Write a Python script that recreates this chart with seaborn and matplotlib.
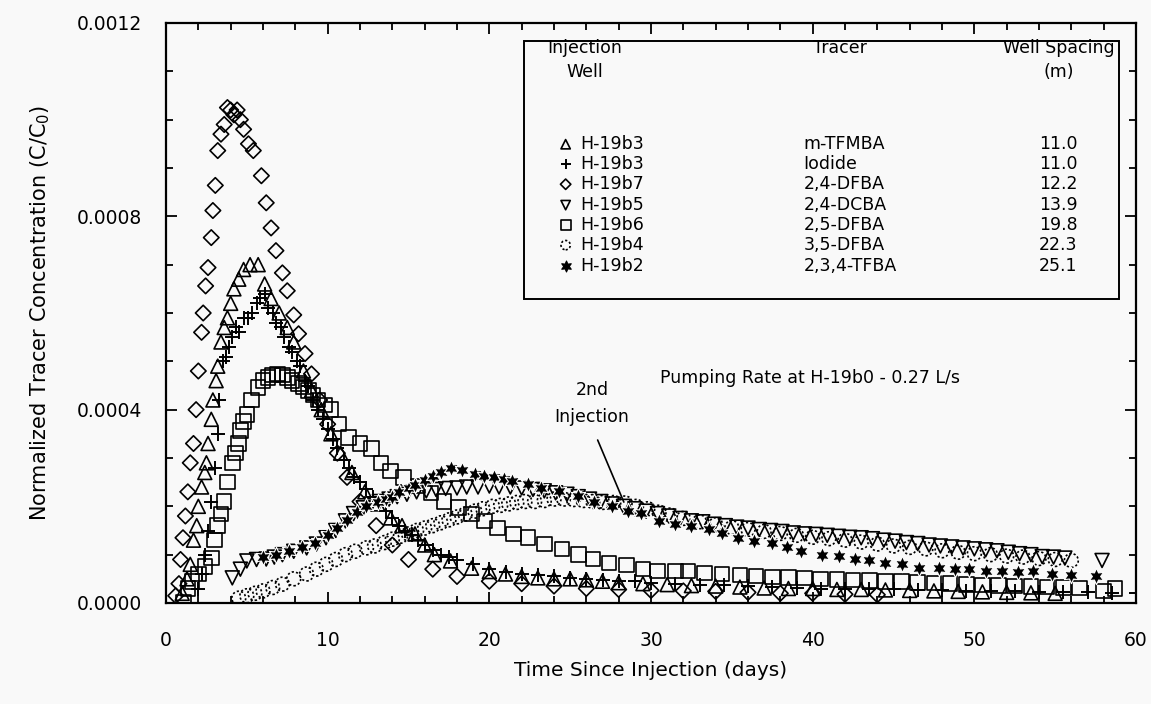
import numpy as np
import pandas as pd
import matplotlib
matplotlib.use("Agg")
import matplotlib.pyplot as plt
import seaborn as sns
from matplotlib.ticker import MultipleLocator, FixedLocator
from matplotlib.patches import Rectangle
from matplotlib.lines import Line2D

# ---------------- data (concentrations in units of 1e-4 C/C0) ----------------
tri_day = [1.0, 1.3, 1.5, 1.7, 1.9, 2.0, 2.2, 2.4, 2.5, 2.6, 2.8, 2.9, 3.1, 3.2, 3.4, 3.6, 3.8, 4.0, 4.2, 4.5,
           4.8, 5.2, 5.7, 6.1, 6.5, 7.0, 7.5, 7.9, 8.5, 9.0, 9.6, 10.2, 10.8, 11.5, 12.3, 13.1, 13.9, 14.6, 15.4,
           16.0, 16.6, 17.6, 18.9, 20.0, 21.0, 22.0, 23.0, 24.0, 25.0, 26.0, 27.0, 28.0, 29.5, 31.0, 32.5, 34.0,
           35.5, 37.0, 38.5, 40.0, 41.5, 43.0, 44.5, 46.0, 47.5, 49.0, 50.5, 52.0, 53.5, 55.0]
tri_c = [0.2, 0.5, 0.8, 1.3, 1.6, 2.0, 2.4, 2.7, 2.9, 3.3, 3.8, 4.2, 4.6, 4.9, 5.4, 5.7, 5.9, 6.2, 6.5, 6.7,
         6.9, 7.0, 7.0, 6.6, 6.3, 6.0, 5.7, 5.4, 4.8, 4.4, 4.0, 3.5, 3.1, 2.7, 2.3, 2.05, 1.76, 1.6, 1.43,
         1.2, 1.0, 0.87, 0.72, 0.65, 0.6, 0.55, 0.52, 0.5, 0.5, 0.48, 0.45, 0.42, 0.4, 0.38, 0.36, 0.35,
         0.33, 0.31, 0.3, 0.3, 0.28, 0.28, 0.27, 0.26, 0.25, 0.24, 0.23, 0.22, 0.21, 0.2]

plus_day = [2.0, 2.2, 2.4, 2.6, 2.8, 3.0, 3.2, 3.3, 3.5, 3.7, 3.9, 4.1, 4.3, 4.5, 4.8, 5.1, 5.3, 5.6, 5.8, 6.1,
            6.3, 6.6, 6.8, 7.1, 7.3, 7.6, 7.8, 8.1, 8.3, 8.6, 8.8, 9.1, 9.4, 9.7, 10.0, 10.3, 10.6, 11.0, 11.3,
            11.6, 12.0, 12.4, 12.8, 13.2, 13.6, 14.0, 14.4, 14.8, 15.2, 15.6, 16.0, 16.5, 17.0, 17.5, 18.0, 19.0,
            20.0, 21.0, 22.0, 23.0, 24.0, 25.0, 26.0, 27.0, 28.0, 29.0, 30.0, 31.5, 33.0, 34.5, 36.0, 37.5, 39.0,
            40.5, 42.0, 43.5, 45.0, 46.5, 48.0, 49.5, 51.0, 52.5, 54.0, 55.5, 57.0, 58.5, 60.0]
plus_c = [0.3, 0.6, 1.0, 1.5, 2.1, 2.8, 3.5, 4.2, 5.0, 5.1, 5.3, 5.5, 5.7, 5.6, 5.9, 5.9, 6.0, 6.2, 6.3, 6.4,
          6.1, 6.0, 5.8, 5.7, 5.5, 5.3, 5.2, 5.0, 4.9, 4.6, 4.5, 4.2, 4.0, 3.8, 3.6, 3.4, 3.2, 2.95, 2.8,
          2.6, 2.5, 2.35, 2.2, 2.05, 1.9, 1.75, 1.6, 1.5, 1.4, 1.3, 1.2, 1.1, 1.0, 0.95, 0.9, 0.8,
          0.7, 0.65, 0.6, 0.58, 0.55, 0.52, 0.5, 0.48, 0.45, 0.45, 0.42, 0.4, 0.38, 0.37, 0.35, 0.34, 0.32,
          0.3, 0.3, 0.29, 0.28, 0.27, 0.26, 0.25, 0.25, 0.24, 0.23, 0.22, 0.22, 0.21, 0.2]

dia_day = [0.6, 0.8, 0.9, 1.05, 1.2, 1.35, 1.5, 1.7, 1.86, 2.0, 2.2, 2.3, 2.45, 2.6, 2.8, 2.9, 3.05, 3.2, 3.4,
           3.6, 3.8, 4.0, 4.2, 4.4, 4.6, 4.8, 5.1, 5.4, 5.9, 6.2, 6.5, 6.8, 7.2, 7.5, 7.9, 8.2, 8.6, 9.0, 9.5,
           10.0, 10.6, 11.2, 12.0, 13.0, 14.0, 15.0, 16.5, 18.0, 20.0, 22.0, 24.0, 26.0, 28.0, 30.0, 32.0,
           34.0, 36.0, 38.0, 40.0, 42.0, 44.0]
dia_c = [0.15, 0.4, 0.9, 1.35, 1.8, 2.3, 2.9, 3.3, 4.0, 4.8, 5.6, 6.0, 6.56, 6.94, 7.56, 8.12, 8.64, 9.36, 9.7,
         9.9, 10.25, 10.2, 10.1, 10.2, 10.0, 9.8, 9.5, 9.36, 8.84, 8.28, 7.76, 7.29, 6.83, 6.46, 5.96, 5.57,
         5.16, 4.74, 4.2, 3.7, 3.1, 2.6, 2.1, 1.6, 1.2, 0.9, 0.7, 0.55, 0.45, 0.4, 0.35, 0.3, 0.28, 0.26,
         0.25, 0.24, 0.22, 0.2, 0.2, 0.18, 0.17]

dtri_day = [4.1, 4.6, 5.0, 5.6, 6.2, 6.7, 7.2, 7.9, 8.7, 9.3, 9.9, 10.5, 11.1, 11.6, 12.2, 12.7, 13.2, 13.8,
            14.3, 14.9, 15.5, 16.1, 16.7, 17.3, 18.0, 18.6, 19.3, 20.0, 20.6, 21.3, 22.0, 22.7, 23.4, 24.1,
            24.8, 25.5, 26.2, 26.9, 27.6, 28.3, 29.0, 29.7, 30.4, 31.1, 31.8, 32.5, 33.2, 33.9, 34.6, 35.3,
            36.0, 36.7, 37.4, 38.1, 38.8, 39.5, 40.2, 40.9, 41.6, 42.3, 43.0, 43.7, 44.4, 45.1, 45.8, 46.5,
            47.2, 47.9, 48.6, 49.3, 50.0, 50.7, 51.4, 52.1, 52.8, 53.5, 54.2, 54.9, 55.6, 57.9]
dtri_c = [0.52, 0.7, 0.87, 0.9, 0.91, 0.95, 1.0, 1.07, 1.14, 1.22, 1.35, 1.5, 1.7, 1.85, 1.97, 2.05, 2.1, 2.15,
          2.2, 2.25, 2.3, 2.32, 2.35, 2.37, 2.38, 2.4, 2.4, 2.42, 2.4, 2.4, 2.38, 2.35, 2.32, 2.28,
          2.25, 2.2, 2.15, 2.1, 2.05, 2.0, 1.95, 1.9, 1.85, 1.8, 1.75, 1.7, 1.68, 1.63, 1.6, 1.57,
          1.55, 1.52, 1.5, 1.48, 1.45, 1.43, 1.42, 1.4, 1.38, 1.36, 1.35, 1.33, 1.3, 1.28, 1.25, 1.23,
          1.2, 1.18, 1.16, 1.14, 1.12, 1.1, 1.08, 1.05, 1.02, 1.0, 0.96, 0.95, 0.93, 0.88]

sq_day = [1.1, 1.35, 1.6, 2.0, 2.4, 2.8, 3.0, 3.2, 3.4, 3.6, 3.8, 4.1, 4.3, 4.5, 4.6, 4.8, 5.0, 5.3, 5.7, 6.0,
          6.3, 6.6, 6.9, 7.2, 7.5, 7.8, 8.2, 8.5, 8.8, 9.1, 9.4, 9.8, 10.2, 10.7, 11.3, 12.0, 12.7, 13.3,
          13.9, 14.7, 15.6, 16.4, 17.2, 18.1, 18.9, 19.7, 20.5, 21.5, 22.4, 23.4, 24.5, 25.5, 26.4, 27.4,
          28.5, 29.5, 30.4, 31.5, 32.3, 33.3, 34.4, 35.5, 36.5, 37.5, 38.5, 39.5, 40.5, 41.5, 42.5, 43.5,
          44.5, 45.5, 46.5, 47.5, 48.5, 49.5, 50.5, 51.5, 52.5, 53.5, 54.5, 55.5, 56.5, 58.0, 58.7]
sq_c = [0.02, 0.3, 0.45, 0.6, 0.75, 0.93, 1.3, 1.6, 1.84, 2.1, 2.5, 2.9, 3.1, 3.3, 3.57, 3.75, 3.9, 4.2, 4.46,
        4.6, 4.66, 4.72, 4.74, 4.72, 4.66, 4.6, 4.54, 4.47, 4.4, 4.3, 4.2, 4.1, 4.0, 3.7, 3.42, 3.3, 3.2, 2.9,
        2.73, 2.6, 2.42, 2.28, 2.1, 1.97, 1.84, 1.7, 1.55, 1.43, 1.35, 1.22, 1.12, 1.0, 0.91, 0.83,
        0.79, 0.7, 0.66, 0.66, 0.66, 0.62, 0.6, 0.58, 0.56, 0.54, 0.53, 0.52, 0.5, 0.49, 0.48, 0.46,
        0.45, 0.44, 0.42, 0.41, 0.4, 0.38, 0.37, 0.36, 0.35, 0.34, 0.33, 0.32, 0.31, 0.25, 0.3]

circ_day = [4.5, 5.0, 5.5, 6.0, 6.6, 7.2, 7.9, 8.7, 9.3, 9.9, 10.5, 11.1, 11.7, 12.4, 12.9, 13.5, 14.0, 14.5,
            15.0, 15.5, 16.0, 16.5, 17.0, 17.5, 18.0, 18.5, 19.1, 19.6, 20.2, 20.7, 21.2, 21.7, 22.2, 22.8,
            23.4, 24.0, 24.6, 25.2, 25.8, 26.4, 27.0, 27.7, 28.4, 29.1, 29.8, 30.5, 31.2, 32.0, 33.0, 34.0,
            35.0, 36.0, 37.0, 38.0, 39.0, 40.0, 41.0, 42.0, 43.0, 44.0, 45.0, 46.0, 47.0, 48.0, 49.0, 50.0,
            51.0, 52.0, 53.0, 54.0, 55.0, 56.0]
circ_c = [0.1, 0.15, 0.2, 0.25, 0.32, 0.39, 0.5, 0.6, 0.7, 0.8, 0.9, 1.0, 1.07, 1.14, 1.18, 1.25, 1.32, 1.38,
          1.43, 1.5, 1.55, 1.6, 1.66, 1.72, 1.78, 1.84, 1.9, 1.95, 2.0, 2.02, 2.05, 2.08, 2.1, 2.1,
          2.12, 2.15, 2.15, 2.14, 2.12, 2.1, 2.08, 2.08, 2.07, 2.0, 1.95, 1.88, 1.82, 1.75, 1.68, 1.62,
          1.56, 1.52, 1.48, 1.44, 1.4, 1.36, 1.33, 1.3, 1.26, 1.22, 1.18, 1.15, 1.12, 1.08, 1.05, 1.02,
          1.0, 0.97, 0.95, 0.92, 0.9, 0.88]

ast_day = [6.0, 6.8, 7.6, 8.4, 9.2, 10.0, 10.6, 11.2, 11.8, 12.4, 13.1, 13.6, 14.0, 14.4, 15.0, 15.4, 16.0,
           16.5, 17.0, 17.6, 18.3, 19.1, 19.7, 20.3, 20.9, 21.4, 22.4, 23.2, 24.3, 25.5, 26.5, 27.6, 28.6,
           29.4, 30.5, 31.5, 32.5, 33.6, 34.4, 35.4, 36.4, 37.5, 38.4, 39.3, 40.6, 41.6, 42.6, 43.5, 44.5,
           45.5, 46.6, 47.8, 48.8, 49.7, 50.7, 51.7, 52.7, 53.6, 54.8, 56.0, 57.5]
ast_c = [0.95, 1.0, 1.08, 1.15, 1.25, 1.4, 1.55, 1.72, 1.88, 2.0, 2.1, 2.15, 2.2, 2.3, 2.38, 2.45, 2.55,
         2.63, 2.72, 2.8, 2.75, 2.67, 2.63, 2.6, 2.56, 2.53, 2.46, 2.38, 2.32, 2.22, 2.1, 2.0, 1.9,
         1.87, 1.7, 1.64, 1.6, 1.53, 1.45, 1.35, 1.28, 1.24, 1.16, 1.08, 1.0, 0.97, 0.91, 0.89, 0.83,
         0.81, 0.73, 0.72, 0.7, 0.7, 0.66, 0.66, 0.64, 0.66, 0.6, 0.58, 0.56]

wells = ["H-19b3", "H-19b3", "H-19b7", "H-19b5", "H-19b6", "H-19b4", "H-19b2"]
tracers = ["m-TFMBA", "Iodide", "2,4-DFBA", "2,4-DCBA", "2,5-DFBA", "3,5-DFBA", "2,3,4-TFBA"]
spacings = ["11.0", "11.0", "12.2", "13.9", "19.8", "22.3", "25.1"]

x_ticks = [0, 10, 20, 30, 40, 50, 60]
y_ticks = [0.0, 0.0004, 0.0008, 0.0012]
y_ticklabels = ["0.0000", "0.0004", "0.0008", "0.0012"]

# ---------------- styling ----------------
sns.set_theme(style="white")
plt.rcParams["font.family"] = ["DejaVu Sans"]
plt.rcParams["text.color"] = "black"
plt.rcParams["axes.labelcolor"] = "black"
plt.rcParams["xtick.color"] = "black"
plt.rcParams["ytick.color"] = "black"
BG = "#f9f9f9"

series = [
    (tri_day, tri_c, dict(marker="^", s=100, facecolors="none", edgecolors="black", linewidth=1.2)),
    (plus_day, plus_c, dict(marker="+", s=115, color="black", linewidth=1.4)),
    (dia_day, dia_c, dict(marker="D", s=62, facecolors="none", edgecolors="black", linewidth=1.2)),
    (dtri_day, dtri_c, dict(marker="v", s=100, facecolors="none", edgecolors="black", linewidth=1.2)),
    (sq_day, sq_c, dict(marker="s", s=110, facecolors="none", edgecolors="black", linewidth=1.2)),
    (circ_day, circ_c, dict(marker="o", s=100, facecolors="none", edgecolors="black", linewidth=1.2,
                            linestyle=(0, (1.3, 1.3)))),
    (ast_day, ast_c, dict(marker=(6, 1, 0), s=140, color="black", linewidth=0.8)),
]

fig = plt.figure(figsize=(11.51, 7.04), dpi=100, facecolor=BG)
ax = fig.add_axes([166 / 1151, 1 - 603 / 704, 970 / 1151, 580 / 704])
ax.set_facecolor(BG)

for d, c, kw in series:
    df = pd.DataFrame({"day": d, "conc": np.array(c) * 1e-4})
    sns.scatterplot(data=df, x="day", y="conc", ax=ax, legend=False, zorder=3, **kw)

ax.set_xlim(0, 60)
ax.set_ylim(0, 0.0012)
ax.xaxis.set_major_locator(FixedLocator(x_ticks))
ax.xaxis.set_minor_locator(MultipleLocator(2))
ax.yaxis.set_major_locator(FixedLocator(y_ticks))
ax.yaxis.set_minor_locator(MultipleLocator(0.0001))
ax.set_yticklabels(y_ticklabels)
ax.tick_params(which="both", direction="in", top=True, right=True, bottom=True, left=True,
               color="black", width=1.3)
ax.tick_params(which="major", length=8, labelsize=13.5, labelcolor="black")
ax.tick_params(which="minor", length=5)
ax.tick_params(axis="y", which="major", pad=17)
ax.tick_params(axis="x", which="major", pad=20)
for sp in ax.spines.values():
    sp.set_visible(True)
    sp.set_color("black")
    sp.set_linewidth(1.6)

ax.set_xlabel("Time Since Injection (days)", fontsize=14.5, color="black", labelpad=8)
ax.set_ylabel("Normalized Tracer Concentration (C/C$_0$)", fontsize=15, color="black", labelpad=18)

# ---------------- table legend ----------------
T = ax.transAxes
ax.add_patch(Rectangle((0.369, 0.524), 0.613, 0.445, transform=T, facecolor=BG,
                       edgecolor="black", linewidth=1.4, zorder=5))
fs = 12.5
ax.text(0.432, 0.957, "Injection", transform=T, ha="center", va="center", fontsize=fs, zorder=6)
ax.text(0.432, 0.916, "Well", transform=T, ha="center", va="center", fontsize=fs, zorder=6)
ax.text(0.695, 0.957, "Tracer", transform=T, ha="center", va="center", fontsize=fs, zorder=6)
ax.text(0.920, 0.957, "Well Spacing", transform=T, ha="center", va="center", fontsize=fs, zorder=6)
ax.text(0.920, 0.916, "(m)", transform=T, ha="center", va="center", fontsize=fs, zorder=6)

row_y = [0.791, 0.757, 0.722, 0.686, 0.652, 0.617, 0.581]
for (d, c, kw), w, t, sp, yy in zip(series, wells, tracers, spacings, row_y):
    lkw = dict(kw)
    lkw["s"] = kw["s"] * 0.45
    ax.scatter([0.412], [yy], transform=T, zorder=6, clip_on=False, **lkw)
    ax.text(0.427, yy, w, transform=T, ha="left", va="center", fontsize=fs, zorder=6)
    ax.text(0.657, yy, t, transform=T, ha="left", va="center", fontsize=fs, zorder=6)
    ax.text(0.920, yy, sp, transform=T, ha="center", va="center", fontsize=fs, zorder=6)

# ---------------- annotations ----------------
ax.text(0.509, 0.388, "Pumping Rate at H-19b0 - 0.27 L/s", transform=T, ha="left", va="center",
        fontsize=fs, zorder=6)
ax.text(0.439, 0.367, "2nd", transform=T, ha="center", va="center", fontsize=fs, zorder=6)
ax.text(0.439, 0.321, "Injection", transform=T, ha="center", va="center", fontsize=fs, zorder=6)
ax.add_line(Line2D([0.445, 0.472], [0.281, 0.174], transform=T, color="black", linewidth=1.2, zorder=6))

fig.savefig("out.png", dpi=100, facecolor=BG)
